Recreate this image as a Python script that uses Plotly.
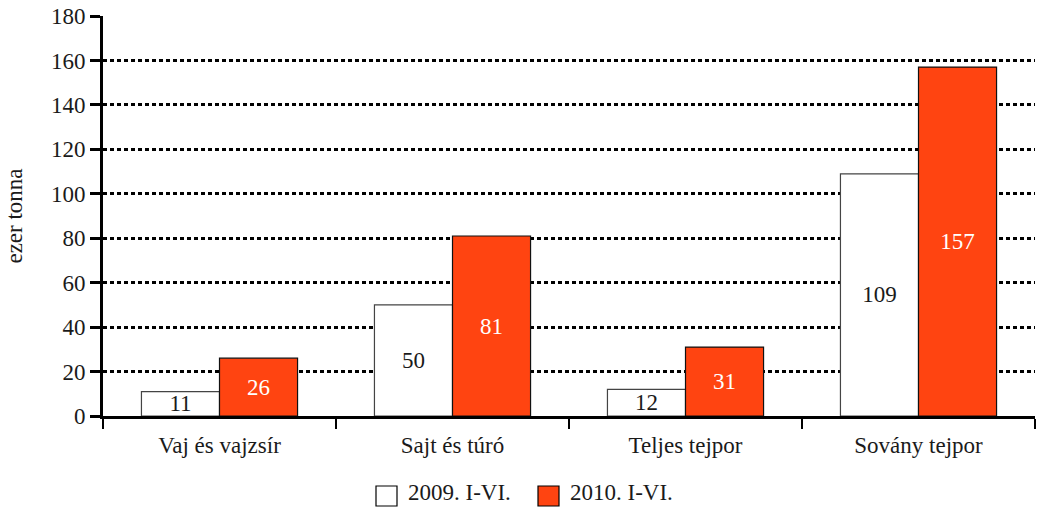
import plotly.graph_objects as go

categories = ["Vaj és vajzsír", "Sajt és túró", "Teljes tejpor", "Sovány tejpor"]
values_2009 = [11, 50, 12, 109]
values_2010 = [26, 81, 31, 157]
series_names = ["2009. I-VI.", "2010. I-VI."]
series_colors = ["white", "#FF4411"]
y_ticks = [0, 20, 40, 60, 80, 100, 120, 140, 160, 180]

FONT = "Liberation Serif"
FS = 23
TXT = "#1a1a1a"

fig = go.Figure()
fig.add_trace(go.Bar(
    x=categories, y=values_2009, name=series_names[0], showlegend=False,
    marker=dict(color=series_colors[0], line=dict(color="#444444", width=1.2)),
    text=[str(v) for v in values_2009], textposition="inside", textangle=0,
    insidetextanchor="middle", constraintext="none",
    textfont=dict(family=FONT, size=FS, color=TXT),
))
fig.add_trace(go.Bar(
    x=categories, y=values_2010, name=series_names[1], showlegend=False,
    marker=dict(color=series_colors[1], line=dict(color="#111111", width=1.2)),
    text=[str(v) for v in values_2010], textposition="inside", textangle=0,
    insidetextanchor="middle", constraintext="none",
    textfont=dict(family=FONT, size=FS, color="white"),
))

# Custom legend (larger square symbols like the reference), placed in paper coords
L, T, W, H = 103, 16, 932, 400
def px_x(p):
    return (p - L) / W
def px_y(p):
    return (T + H - p) / H

legend_sq_left = [376, 538]
legend_text_left = [407, 569]
for i, name in enumerate(series_names):
    fig.add_shape(type="rect", xref="paper", yref="paper",
                  x0=px_x(legend_sq_left[i]), x1=px_x(legend_sq_left[i] + 21),
                  y0=px_y(506), y1=px_y(486),
                  fillcolor=series_colors[i], line=dict(color="black", width=1.2))
    fig.add_annotation(xref="paper", yref="paper", x=px_x(legend_text_left[i]), y=px_y(492),
                       xanchor="left", yanchor="middle", showarrow=False, text=name,
                       borderpad=0, font=dict(family=FONT, size=FS, color=TXT))

fig.update_layout(
    width=1037, height=507,
    margin=dict(l=L, r=1037 - L - W, t=T, b=507 - T - H),
    paper_bgcolor="white", plot_bgcolor="white",
    barmode="group", bargap=0.33, bargroupgap=0,
    font=dict(family=FONT, size=FS, color=TXT),
    showlegend=False,
    xaxis=dict(
        type="category", showline=True, linecolor="black", linewidth=3,
        ticks="outside", tickson="boundaries", ticklen=10, tickwidth=2, tickcolor="black",
        showgrid=False, tickfont=dict(family=FONT, size=FS, color=TXT),
        ticklabelstandoff=6, automargin=False,
    ),
    yaxis=dict(
        range=[0, 180], tickvals=y_ticks, showline=True, linecolor="black", linewidth=3,
        ticks="outside", ticklen=10, tickwidth=3, tickcolor="black",
        showgrid=True, gridcolor="black", gridwidth=3, griddash="4px,3px",
        zeroline=False, tickfont=dict(family=FONT, size=FS, color=TXT),
        automargin=False,
        title=dict(text="ezer tonna", font=dict(family=FONT, size=FS, color=TXT), standoff=22),
    ),
)

fig.write_html("out.html", config={"displayModeBar": False},
               post_script="document.body.style.margin='0';document.body.style.overflow='hidden';")
